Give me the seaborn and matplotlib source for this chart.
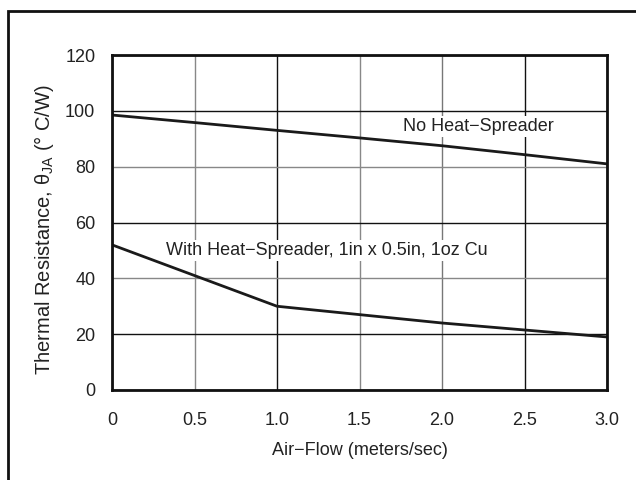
import pandas as pd
import matplotlib.pyplot as plt
import seaborn as sns
from matplotlib.patches import Rectangle

# air flow (m/s) and theta_JA readings
air_flow = [0, 0.5, 1.0, 1.5, 2.0, 2.5, 3.0]
no_spreader = [98.5, 95.8, 93.0, 90.3, 87.5, 84.3, 81.0]
with_spreader = [52.0, 41.0, 30.0, 27.0, 24.0, 21.5, 19.0]

x_ticks = [0, 0.5, 1.0, 1.5, 2.0, 2.5, 3.0]
x_labels = ["0", "0.5", "1.0", "1.5", "2.0", "2.5", "3.0"]
y_ticks = [0, 20, 40, 60, 80, 100, 120]

df = pd.DataFrame({
    "flow": air_flow * 2,
    "theta": no_spreader + with_spreader,
    "case": ["none"] * len(air_flow) + ["spreader"] * len(air_flow),
})

sns.set_style("white")
plt.rcParams["font.family"] = ["Liberation Sans", "DejaVu Sans"]

FS = 13

fig = plt.figure(figsize=(6.36, 4.8), dpi=100)
ax = fig.add_axes([112 / 636, 1 - 390 / 480, 495 / 636, 335 / 480])

sns.lineplot(
    data=df,
    x="flow",
    y="theta",
    units="case",
    estimator=None,
    color="#1a1a1a",
    linewidth=2.0,
    ax=ax,
    zorder=3,
)

ax.set_xlim(0, 3.0)
ax.set_ylim(0, 120)
ax.set_xticks(x_ticks)
ax.set_xticklabels(x_labels)
ax.set_yticks(y_ticks)
ax.tick_params(length=0, labelsize=FS, colors="#222222")
ax.tick_params(axis="x", pad=15.5)
ax.tick_params(axis="y", pad=12)

ax.grid(True, linewidth=1.0)
x_grid_cols = ["k", "#888888", "#111111", "#888888", "#777777", "#111111", "k"]
y_grid_cols = ["k", "#111111", "#888888", "#111111", "#888888", "#111111", "k"]
for line, c in zip(ax.get_xgridlines(), x_grid_cols):
    line.set_color(c)
for line, c in zip(ax.get_ygridlines(), y_grid_cols):
    line.set_color(c)

for sp in ax.spines.values():
    sp.set_linewidth(2.0)
    sp.set_color("#111111")
    sp.set_zorder(4)

ax.set_xlabel("Air\u2212Flow (meters/sec)", fontsize=FS, labelpad=10, color="#222222")
ax.set_ylabel(r"Thermal Resistance, θ$_{\mathregular{JA}}$ (° C/W)",
              fontsize=14.5, color="#222222")
ax.yaxis.set_label_coords(-0.113, 0.48)

box = dict(facecolor="white", edgecolor="none", pad=1.5)
ax.text(2.22, 94.3, "No Heat\u2212Spreader", fontsize=FS, ha="center", va="center",
        bbox=box, zorder=2, color="#222222")
ax.text(1.3, 50, "With Heat\u2212Spreader, 1in x 0.5in, 1oz Cu", fontsize=FS,
        ha="center", va="center", bbox=box, zorder=2, color="#222222")

# outer frame around the whole figure
fig.patches.append(Rectangle((8 / 636, -0.1), 1.1, 0.1 + 1 - 11 / 480,
                             transform=fig.transFigure, fill=False,
                             edgecolor="#111111", linewidth=2.0))

fig.savefig("out.png", dpi=100)
